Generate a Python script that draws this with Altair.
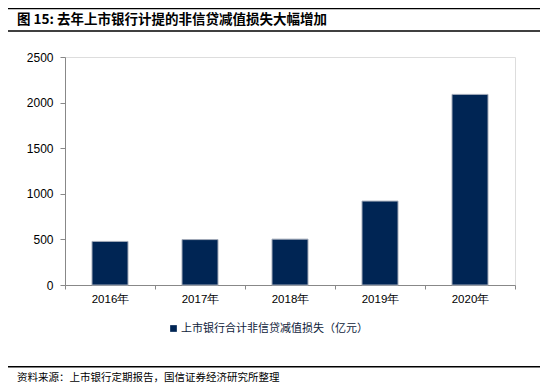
import altair as alt
import pandas as pd

years = ["2016年", "2017年", "2018年", "2019年", "2020年"]
values = [478, 498, 503, 920, 2090]
series_name = "上市银行合计非信贷减值损失（亿元）"
title_text = "图 15: 去年上市银行计提的非信贷减值损失大幅增加"
source_text = "资料来源：上市银行定期报告，国信证券经济研究所整理"
y_ticks = [0, 500, 1000, 1500, 2000, 2500]

df = pd.DataFrame({"year": years, "value": values, "series": [series_name] * len(years)})
one = alt.Data(values=[{}])

NAVY = "#002554"
CJK = "Noto Sans CJK SC"
LAT = "Liberation Sans"

bars = alt.Chart(df).mark_bar(
    color=NAVY, stroke="#a3abb9", strokeWidth=1, width=alt.RelativeBandSize(0.4)
).encode(
    x=alt.X("year:N", sort=years, title=None,
            scale=alt.Scale(paddingInner=0, paddingOuter=0),
            axis=alt.Axis(labelAngle=0, tickBand="extent", domainColor="#888888",
                          tickColor="#888888", tickSize=4, labelFont=LAT,
                          labelFontSize=11.5, labelColor="#000000", labelPadding=4)),
    y=alt.Y("value:Q", title=None,
            scale=alt.Scale(domain=[0, 2500], nice=False),
            axis=alt.Axis(values=y_ticks, format="d", grid=False, domainColor="#888888",
                          tickColor="#888888", tickSize=5, labelFont=LAT,
                          labelFontSize=12, labelColor="#000000", labelPadding=7)),
    color=alt.Color("series:N", title=None,
                    scale=alt.Scale(range=[NAVY]),
                    legend=alt.Legend(orient="none", legendX=103, legendY=266,
                                      symbolType="square", symbolSize=45,
                                      symbolStrokeWidth=0, labelFont=CJK,
                                      labelFontSize=11, labelColor="#0d1a3a",
                                      padding=0, labelOffset=2, labelLimit=400)),
)

def hrule(y):
    return alt.Chart(one).mark_rule(color="#000000", strokeWidth=1.5).encode(
        x=alt.value(-57), x2=alt.value(476.5), y=alt.value(y))

top_rule = hrule(-48.5)
mid_rule = hrule(-26)
foot_rule = hrule(309.7)

title = alt.Chart(one).mark_text(
    text=title_text, font=CJK, fontSize=13.5, fontWeight="bold", align="left",
    baseline="middle", color="#000000"
).encode(x=alt.value(-48), y=alt.value(-37))

source = alt.Chart(one).mark_text(
    text=source_text, font=CJK, fontSize=10.5, align="left",
    baseline="middle", color="#000000"
).encode(x=alt.value(-48), y=alt.value(320.5))

chart = alt.layer(bars, top_rule, mid_rule, foot_rule, title, source).properties(
    width=450, height=228,
    padding={"left": 57, "top": 49, "right": 25, "bottom": 98},
    autosize=alt.AutoSizeParams(type="none"),
).configure_view(stroke=None).configure(background="#ffffff")

chart.save("out.html", embed_options={"renderer": "svg", "actions": False})
